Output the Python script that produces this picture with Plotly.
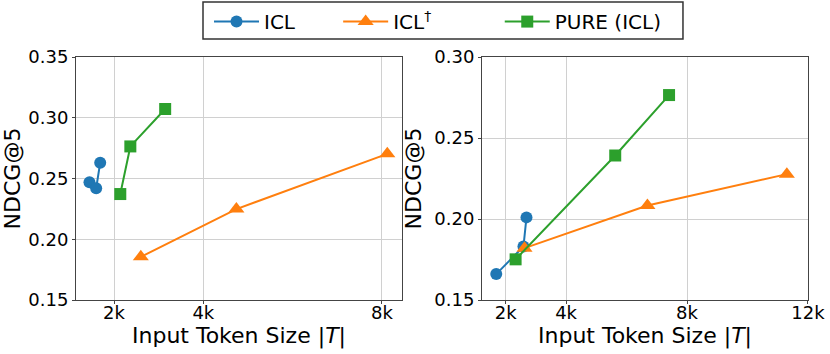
import plotly.graph_objects as go

# left panel
left_icl_x = [1450, 1600, 1690]
left_icl_y = [0.247, 0.242, 0.263]
left_icld_x = [2600, 4740, 8120]
left_icld_y = [0.1855, 0.2248, 0.2703]
left_pure_x = [2140, 2365, 3145]
left_pure_y = [0.2372, 0.2764, 0.3072]

# right panel
right_icl_x = [1690, 2590, 2690]
right_icl_y = [0.166, 0.183, 0.201]
right_icld_x = [2625, 6690, 11300]
right_icld_y = [0.182, 0.2083, 0.2277]
right_pure_x = [2330, 5625, 7405]
right_pure_y = [0.1751, 0.2392, 0.2765]

names = ['ICL', 'ICL<sup>†</sup>', 'PURE (ICL)']
pad = ['&nbsp;' * 6, '&nbsp;' * 10, '']
colors = ['#1f77b4', '#ff7f0e', '#2ca02c']
symbols = ['circle', 'triangle-up', 'square']
msizes = [12, 14, 12]

FONT = 'DejaVu Sans'

fig = go.Figure()
panels = [
    ('x', 'y', [(left_icl_x, left_icl_y), (left_icld_x, left_icld_y), (left_pure_x, left_pure_y)]),
    ('x2', 'y2', [(right_icl_x, right_icl_y), (right_icld_x, right_icld_y), (right_pure_x, right_pure_y)]),
]
for k, (xa, ya, series) in enumerate(panels):
    for i, (xs, ys) in enumerate(series):
        fig.add_trace(go.Scatter(
            x=xs, y=ys, xaxis=xa, yaxis=ya, mode='lines+markers',
            name=names[i] + pad[i], showlegend=(k == 0),
            line=dict(color=colors[i], width=2),
            marker=dict(symbol=symbols[i], size=msizes[i], color=colors[i]),
        ))

axis_common = dict(showline=True, linecolor='#444', linewidth=1, mirror=True,
                   showgrid=True, gridcolor='#d0d0d0', gridwidth=1, zeroline=False,
                   ticks='outside', ticklen=3, tickcolor='#444',
                   tickfont=dict(size=18, color='black', family=FONT))
title_font = dict(size=22, color='black', family=FONT)

# x titles as annotations so they can sit snug under the tick labels
for xc in [0.2227, 0.7773]:
    fig.add_annotation(text='Input Token Size |<i>T</i>|', xref='paper', yref='paper',
                       x=xc, y=-0.15, xanchor='center', yanchor='middle',
                       showarrow=False, font=title_font)

# legend frame
fig.add_shape(type='rect', xref='paper', yref='paper',
              x0=0.1735, x1=0.8292, y0=1.0741, y1=1.2263,
              line=dict(color='#333', width=1.5), fillcolor='rgba(0,0,0,0)')

fig.update_layout(
    width=830, height=354,
    margin=dict(l=76, r=22, t=57, b=54, autoexpand=False),
    plot_bgcolor='white', paper_bgcolor='white',
    font=dict(family=FONT, color='black'),
    xaxis=dict(domain=[0, 0.4454], range=[1148, 8450],
               tickvals=[2000, 4000, 8000], ticktext=['2k', '4k', '8k'],
               ticklabelstandoff=-7, **axis_common),
    yaxis=dict(range=[0.15, 0.35], tickvals=[0.15, 0.20, 0.25, 0.30, 0.35], tickformat='.2f',
               title=dict(text='NDCG@5', font=title_font, standoff=6),
               **axis_common),
    xaxis2=dict(domain=[0.5546, 1], range=[1218, 12000], anchor='y2',
                tickvals=[2000, 4000, 8000, 12000], ticktext=['2k', '4k', '8k', '12k'],
                ticklabelstandoff=-7, **axis_common),
    yaxis2=dict(range=[0.15, 0.30], tickvals=[0.15, 0.20, 0.25, 0.30], tickformat='.2f', anchor='x2',
                title=dict(text='NDCG@5', font=title_font, standoff=6),
                **axis_common),
    legend=dict(orientation='h', x=0.1817, xanchor='left', y=1.226, yanchor='top',
                borderwidth=0, bgcolor='rgba(0,0,0,0)',
                font=dict(size=20, family=FONT, color='black'),
                itemwidth=45),
)

fig.write_html("out.html", config={'displayModeBar': False},
               post_script="document.body.style.margin='0';")
